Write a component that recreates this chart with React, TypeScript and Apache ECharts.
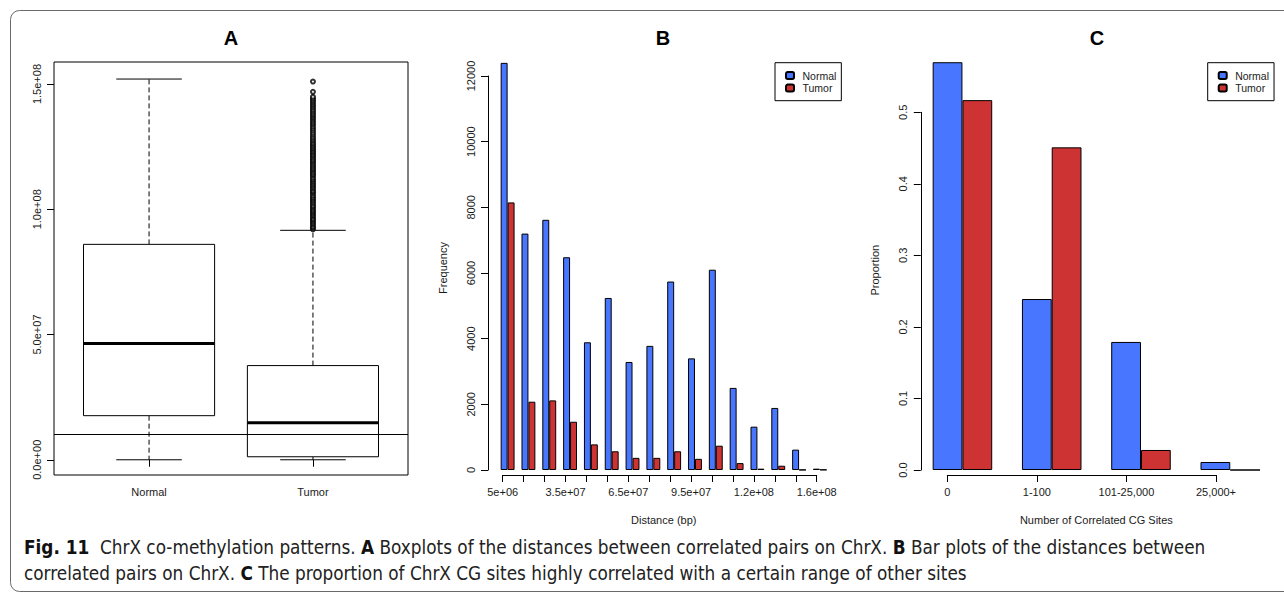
import React, { useEffect, useRef } from "react";
import * as echarts from "echarts";

// ---------- Panel A : boxplots ----------
const A_CATEGORIES = ["Normal", "Tumor"];
const A_MIN = [0, 0];
const A_Q1 = [1.76e7, 1.2e6];
const A_MEDIAN = [4.64e7, 1.48e7];
const A_Q3 = [8.6e7, 3.76e7];
const A_MAX = [1.52e8, 9.16e7];
const A_THRESHOLD = 1e7;
const A_Y_TICKS = [0, 5e7, 1e8, 1.5e8];
const A_Y_TICK_LABELS = ["0.0e+00", "5.0e+07", "1.0e+08", "1.5e+08"];
const A_TUMOR_OUTLIERS = [
  92.0e6, 92.6e6, 93.1e6, 93.9e6, 94.5e6, 95.2e6, 95.8e6, 96.3e6, 97.1e6, 97.7e6,
  98.4e6, 99.0e6, 99.6e6, 100.3e6, 101.0e6, 101.5e6, 102.3e6, 102.9e6, 103.6e6, 104.2e6,
  104.8e6, 105.5e6, 106.3e6, 106.9e6, 107.4e6, 108.2e6, 108.8e6, 109.5e6, 110.1e6, 110.8e6,
  111.4e6, 112.0e6, 112.7e6, 113.5e6, 114.0e6, 114.7e6, 115.4e6, 116.0e6, 116.6e6, 117.3e6,
  118.0e6, 118.7e6, 119.3e6, 119.9e6, 120.6e6, 121.3e6, 121.9e6, 122.6e6, 123.2e6, 123.9e6,
  124.5e6, 125.2e6, 125.9e6, 126.5e6, 127.3e6, 128.0e6, 128.8e6, 129.7e6, 130.5e6, 131.4e6,
  132.2e6, 133.0e6, 133.8e6, 134.5e6, 135.3e6, 136.1e6, 136.8e6, 137.6e6, 138.3e6, 139.1e6,
  139.8e6, 140.6e6, 141.3e6, 142.0e6, 142.8e6, 143.5e6, 144.2e6, 144.9e6, 146.9e6, 151.0e6,
];

// ---------- Panel B : distance bar plot ----------
const B_TICK_LABELS = [
  "5e+06", "1.5e+07", "2.5e+07", "3.5e+07", "4.5e+07", "5.5e+07", "6.5e+07", "7.5e+07",
  "8.5e+07", "9.5e+07", "1.05e+08", "1.15e+08", "1.2e+08", "1.35e+08", "1.45e+08", "1.6e+08",
];
const B_NORMAL = [12400, 7200, 7620, 6480, 3890, 5240, 3290, 3780, 5740, 3400, 6100, 2500, 1320, 1890, 620, 40];
const B_TUMOR = [8150, 2080, 2120, 1470, 780, 570, 370, 370, 570, 340, 740, 210, 40, 130, 5, 10];
const B_LABEL_EVERY = 3;

// ---------- Panel C : proportion bar plot ----------
const C_CATEGORIES = ["0", "1-100", "101-25,000", "25,000+"];
const C_NORMAL = [0.57, 0.239, 0.179, 0.0112];
const C_TUMOR = [0.517, 0.451, 0.028, 0.0];

const BLUE = "#4876FF";
const RED = "#CD3333";
const FONT = '"Liberation Sans", Arial, Helvetica, sans-serif';
const TXT = "#1a1a1a";

function renderBox(params: any, api: any) {
  const x = api.value(0);
  const mn = api.value(1);
  const q1 = api.value(2);
  const md = api.value(3);
  const q3 = api.value(4);
  const mx = api.value(5);
  const c = (v: number) => api.coord([x, v]);
  const cx = c(md)[0];
  const bw = api.size([1, 0])[0] * 0.8;
  const half = bw / 2;
  const cap = bw / 4;
  const yMin = c(mn)[1];
  const yQ1 = c(q1)[1];
  const yMd = c(md)[1];
  const yQ3 = c(q3)[1];
  const yMx = c(mx)[1];
  const dash = { stroke: "#000", lineWidth: 1, lineDash: [5, 3], fill: null };
  const solid = { stroke: "#000", lineWidth: 1, fill: null };
  return {
    type: "group",
    children: [
      { type: "line", shape: { x1: cx, y1: yQ3, x2: cx, y2: yMx }, style: dash },
      { type: "line", shape: { x1: cx, y1: yQ1, x2: cx, y2: yMin }, style: dash },
      { type: "line", shape: { x1: cx - cap, y1: yMx, x2: cx + cap, y2: yMx }, style: solid },
      { type: "line", shape: { x1: cx - cap, y1: yMin, x2: cx + cap, y2: yMin }, style: solid },
      {
        type: "rect",
        shape: { x: cx - half, y: yQ3, width: bw, height: yQ1 - yQ3 },
        style: { fill: "#fff", stroke: "#000", lineWidth: 1 },
      },
      { type: "line", shape: { x1: cx - half, y1: yMd, x2: cx + half, y2: yMd }, style: { stroke: "#000", lineWidth: 3 } },
    ],
  };
}

function textEl(text: string, x: number, y: number, font: string, align = "center") {
  return {
    type: "text",
    x,
    y,
    style: {
      text,
      font,
      fill: "#000",
      align,
      textAlign: align,
      verticalAlign: "middle",
      textVerticalAlign: "middle",
    },
  };
}

export default function App() {
  const ref = useRef<HTMLDivElement>(null);

  useEffect(() => {
    document.body.style.margin = "0";
    if (!ref.current) return;
    const chart = echarts.init(ref.current, null, { renderer: "svg" });

    const labelStyle = { color: TXT, fontSize: 11, fontFamily: FONT };
    const tick = { show: true, length: 7, lineStyle: { color: "#000", width: 1 } };
    const axLine = { show: true, lineStyle: { color: "#000", width: 1 } };
    const noSplit = { show: false };

    const boxData = A_CATEGORIES.map((_, i) => [i + 1, A_MIN[i], A_Q1[i], A_MEDIAN[i], A_Q3[i], A_MAX[i]]);

    const legendBase = {
      orient: "vertical",
      top: 62.7,
      itemWidth: 8,
      itemHeight: 7,
      itemGap: 0,
      padding: [6.5, 5, 6.3, 10],
      borderColor: "#000",
      borderWidth: 1,
      backgroundColor: "#fff",
      selectedMode: false,
      textStyle: { color: TXT, fontSize: 10.5, fontFamily: FONT, lineHeight: 12.6, padding: [0, 0, 0, 3.5] },
      data: ["Normal", "Tumor"],
    };

    const caption1 =
      "{b|Fig. 11}{n|  ChrX co-methylation patterns. }{b|A}{n| Boxplots of the distances between correlated pairs on ChrX. }{b|B}{n| Bar plots of the distances between}";
    const caption2 =
      "{n|correlated pairs on ChrX. }{b|C}{n| The proportion of ChrX CG sites highly correlated with a certain range of other sites}";
    const capFont = '"DejaVu Sans Condensed", "Liberation Sans Narrow", "Liberation Sans", sans-serif';
    const rich = {
      b: { fontFamily: capFont, fontSize: 18.8, fontWeight: "bold", fill: "#111", color: "#111" },
      n: { fontFamily: capFont, fontSize: 18.8, fill: "#222", color: "#222" },
    };

    const option: any = {
      animation: false,
      backgroundColor: "#fff",
      textStyle: { fontFamily: FONT },
      grid: [
        { left: 54, top: 62, width: 354, height: 413, show: true, borderColor: "#000", borderWidth: 1, backgroundColor: "transparent" },
        { left: 497.2, top: 76, width: 333.1, height: 394 },
        { left: 502.7, top: 474, width: 314, height: 1 },
        { left: 917.8, top: 112.3, width: 357.1, height: 357.7 },
        { left: 947.3, top: 474, width: 268.7, height: 1 },
      ],
      xAxis: [
        {
          type: "value",
          gridIndex: 0,
          min: 0.42,
          max: 2.58,
          axisLine: { show: false },
          axisTick: { ...tick, customValues: [1, 2] },
          axisLabel: {
            ...labelStyle,
            margin: 11,
            customValues: [1, 2],
            formatter: (v: number) => A_CATEGORIES[Math.round(v) - 1] ?? "",
          },
          splitLine: noSplit,
        },
        {
          type: "category",
          gridIndex: 1,
          data: B_TICK_LABELS,
          axisLine: { show: false },
          axisTick: { show: false },
          axisLabel: { show: false },
          name: "Distance (bp)",
          nameLocation: "middle",
          nameGap: 44,
          nameTextStyle: { ...labelStyle },
        },
        {
          type: "category",
          gridIndex: 2,
          data: B_TICK_LABELS,
          boundaryGap: false,
          axisLine: axLine,
          axisTick: { ...tick, interval: 0 },
          axisLabel: {
            ...labelStyle,
            margin: 11,
            interval: (i: number) => i % B_LABEL_EVERY === 0,
          },
        },
        {
          type: "category",
          gridIndex: 3,
          data: C_CATEGORIES,
          axisLine: { show: false },
          axisTick: { show: false },
          axisLabel: { show: false },
          name: "Number of Correlated CG Sites",
          nameLocation: "middle",
          nameGap: 44,
          nameTextStyle: { ...labelStyle },
        },
        {
          type: "category",
          gridIndex: 4,
          data: C_CATEGORIES,
          boundaryGap: false,
          axisLine: axLine,
          axisTick: { ...tick, interval: 0 },
          axisLabel: { ...labelStyle, margin: 11, interval: 0 },
        },
      ],
      yAxis: [
        {
          type: "value",
          gridIndex: 0,
          min: -6.08e6,
          max: 1.588e8,
          axisLine: { show: false },
          axisTick: { ...tick, customValues: A_Y_TICKS },
          axisLabel: {
            ...labelStyle,
            rotate: 90,
            margin: 12,
            customValues: A_Y_TICKS,
            formatter: (v: number) => {
              const i = A_Y_TICKS.indexOf(v);
              return i >= 0 ? A_Y_TICK_LABELS[i] : "";
            },
          },
          splitLine: noSplit,
        },
        {
          type: "value",
          gridIndex: 1,
          min: 0,
          max: 12000,
          interval: 2000,
          offset: 9.2,
          axisLine: axLine,
          axisTick: tick,
          axisLabel: { ...labelStyle, rotate: 90, margin: 12, formatter: (v: number) => String(v) },
          splitLine: noSplit,
          name: "Frequency",
          nameLocation: "middle",
          nameGap: 40,
          nameTextStyle: { ...labelStyle, padding: [0, 0, 0, 10] },
        },
        { type: "value", gridIndex: 2, show: false, splitLine: noSplit },
        {
          type: "value",
          gridIndex: 3,
          min: 0,
          max: 0.5,
          interval: 0.1,
          offset: -3,
          axisLine: axLine,
          axisTick: tick,
          axisLabel: { ...labelStyle, rotate: 90, margin: 12, formatter: (v: number) => v.toFixed(1) },
          splitLine: noSplit,
          name: "Proportion",
          nameLocation: "middle",
          nameGap: 40,
          nameTextStyle: { ...labelStyle, padding: [0, 0, 0, 42] },
        },
        { type: "value", gridIndex: 4, show: false, splitLine: noSplit },
      ],
      legend: [
        { ...legendBase, left: 775 },
        { ...legendBase, left: 1207.7 },
      ],
      series: [
        {
          type: "custom",
          name: "box",
          xAxisIndex: 0,
          yAxisIndex: 0,
          renderItem: renderBox,
          encode: { x: 0, y: [1, 2, 3, 4, 5] },
          data: boxData,
          z: 2,
        },
        {
          type: "scatter",
          name: "outliers",
          xAxisIndex: 0,
          yAxisIndex: 0,
          symbol: "emptyCircle",
          symbolSize: 4,
          itemStyle: { color: "#000", borderColor: "#000", borderWidth: 0.8 },
          data: A_TUMOR_OUTLIERS.map((v) => [2, v]),
          z: 3,
          markLine: {
            silent: true,
            symbol: ["none", "none"],
            label: { show: false },
            lineStyle: { color: "#000", width: 1, type: "solid" },
            data: [{ yAxis: A_THRESHOLD }],
          },
        },
        {
          type: "bar",
          name: "Normal",
          xAxisIndex: 1,
          yAxisIndex: 1,
          data: B_NORMAL,
          barGap: "0%",
          barCategoryGap: "33.3%",
          clip: false,
          itemStyle: { color: BLUE, borderColor: "#000", borderWidth: 1 },
        },
        {
          type: "bar",
          name: "Tumor",
          xAxisIndex: 1,
          yAxisIndex: 1,
          data: B_TUMOR,
          barGap: "0%",
          barCategoryGap: "33.3%",
          clip: false,
          itemStyle: { color: RED, borderColor: "#000", borderWidth: 1 },
        },
        {
          type: "bar",
          name: "Normal",
          xAxisIndex: 3,
          yAxisIndex: 3,
          data: C_NORMAL,
          barGap: "0%",
          barCategoryGap: "33.3%",
          clip: false,
          itemStyle: { color: BLUE, borderColor: "#000", borderWidth: 1 },
        },
        {
          type: "bar",
          name: "Tumor",
          xAxisIndex: 3,
          yAxisIndex: 3,
          data: C_TUMOR,
          barGap: "0%",
          barCategoryGap: "33.3%",
          clip: false,
          itemStyle: { color: RED, borderColor: "#000", borderWidth: 1 },
        },
      ],
      graphic: [
        {
          type: "rect",
          shape: { x: 10.5, y: 10.5, width: 1300, height: 581, r: 9 },
          style: { fill: "none", stroke: "#6a6a6a", lineWidth: 1 },
          silent: true,
          z: -1,
        },
        textEl("A", 231, 38, `bold 20px ${FONT}`),
        textEl("B", 663, 38, `bold 20px ${FONT}`),
        textEl("C", 1097, 38, `bold 20px ${FONT}`),
        {
          type: "text",
          x: 24,
          y: 547,
          style: { text: caption1, rich, align: "left", textAlign: "left", verticalAlign: "middle", textVerticalAlign: "middle" },
        },
        {
          type: "text",
          x: 24,
          y: 573,
          style: { text: caption2, rich, align: "left", textAlign: "left", verticalAlign: "middle", textVerticalAlign: "middle" },
        },
      ],
    };

    chart.setOption(option);
    return () => chart.dispose();
  }, []);

  return <div ref={ref} style={{ width: 1284, height: 592, overflow: "hidden" }} />;
}
